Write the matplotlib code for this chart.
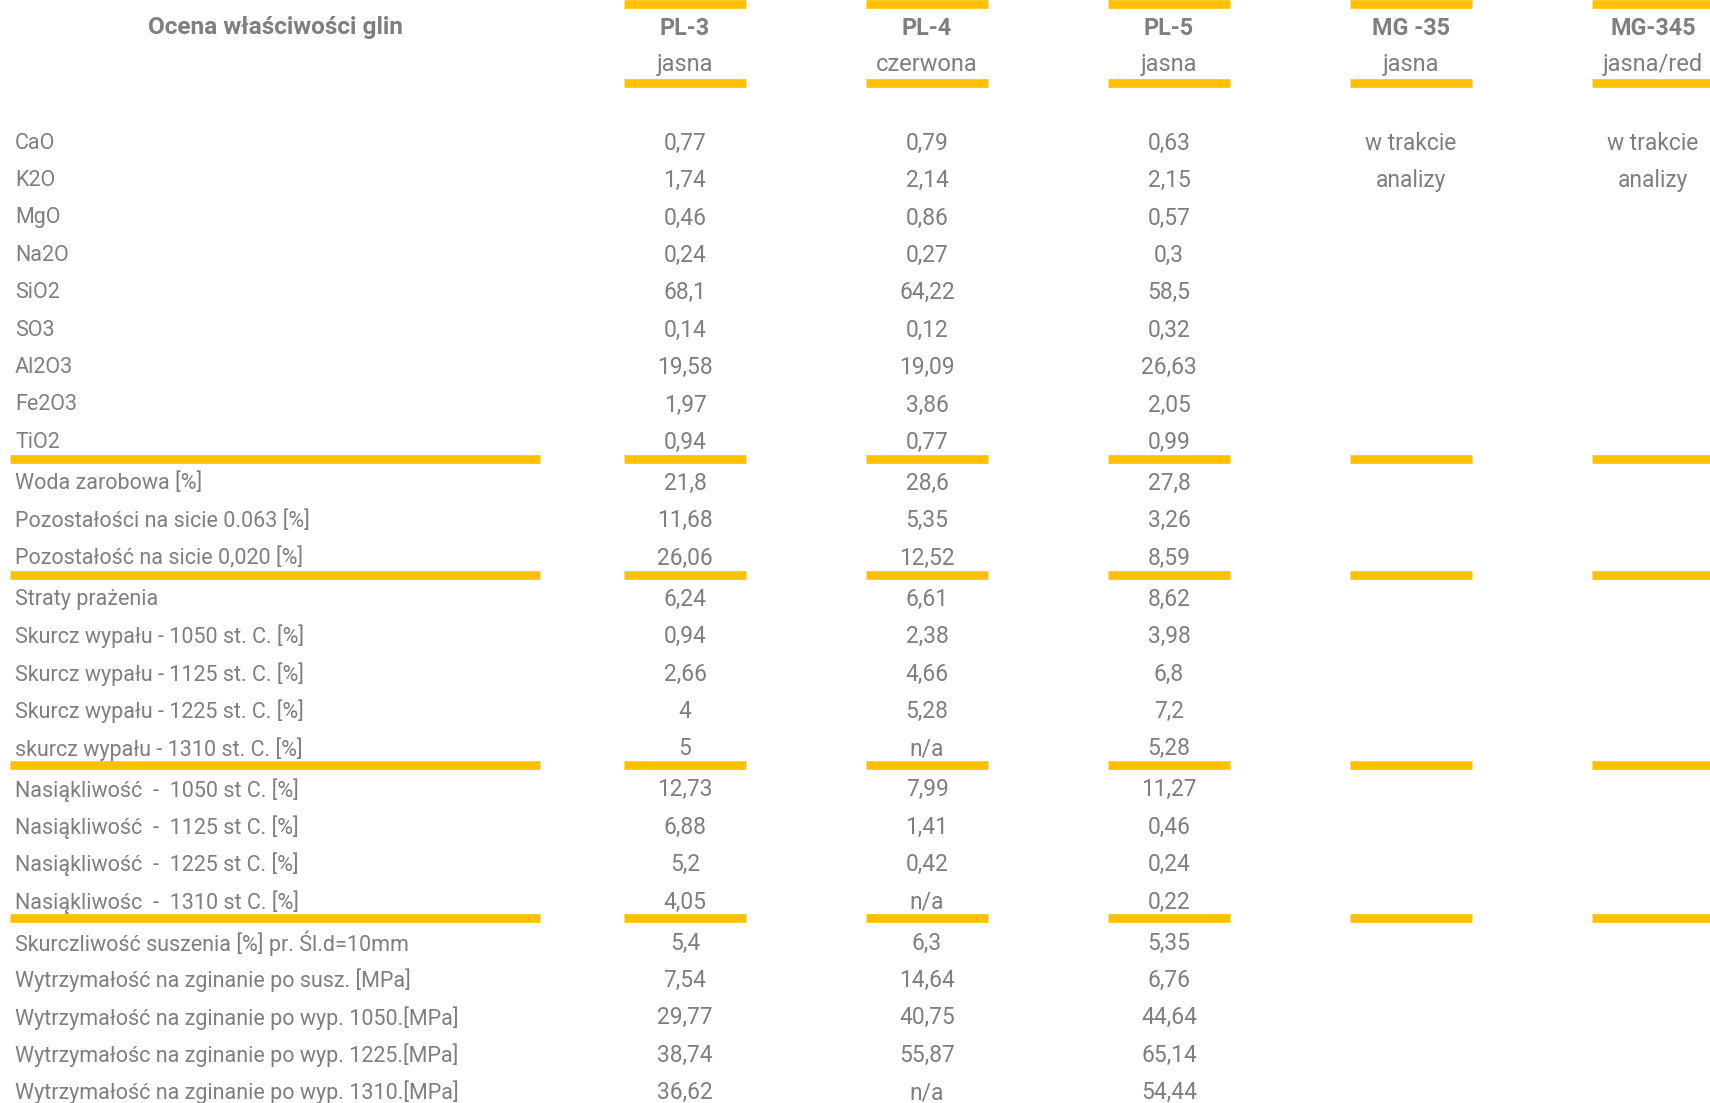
import matplotlib
matplotlib.use("Agg")
import matplotlib.pyplot as plt

plt.rcParams['font.family'] = ['Roboto', 'DejaVu Sans']

title = "Ocena właściwości glin"
col_names = ["PL-3", "PL-4", "PL-5", "MG -35", "MG-345"]
col_sub = ["jasna", "czerwona", "jasna", "jasna", "jasna/red"]

row_labels = [
    ["CaO", "K2O", "MgO", "Na2O", "SiO2", "SO3", "Al2O3", "Fe2O3", "TiO2"],
    ["Woda zarobowa [%]", "Pozostałości na sicie 0.063 [%]", "Pozostałość na sicie 0,020 [%]"],
    ["Straty prażenia", "Skurcz wypału - 1050 st. C. [%]", "Skurcz wypału - 1125 st. C. [%]",
     "Skurcz wypału - 1225 st. C. [%]", "skurcz wypału - 1310 st. C. [%]"],
    ["Nasiąkliwość  -  1050 st C. [%]", "Nasiąkliwość  -  1125 st C. [%]",
     "Nasiąkliwość  -  1225 st C. [%]", "Nasiąkliwośc  -  1310 st C. [%]"],
    ["Skurczliwość suszenia [%] pr. Śl.d=10mm", "Wytrzymałość na zginanie po susz. [MPa]",
     "Wytrzymałość na zginanie po wyp. 1050.[MPa]", "Wytrzymałośc na zginanie po wyp. 1225.[MPa]",
     "Wytrzymałość na zginanie po wyp. 1310.[MPa]"],
]

pl3 = ["0,77", "1,74", "0,46", "0,24", "68,1", "0,14", "19,58", "1,97", "0,94",
       "21,8", "11,68", "26,06",
       "6,24", "0,94", "2,66", "4", "5",
       "12,73", "6,88", "5,2", "4,05",
       "5,4", "7,54", "29,77", "38,74", "36,62"]
pl4 = ["0,79", "2,14", "0,86", "0,27", "64,22", "0,12", "19,09", "3,86", "0,77",
       "28,6", "5,35", "12,52",
       "6,61", "2,38", "4,66", "5,28", "n/a",
       "7,99", "1,41", "0,42", "n/a",
       "6,3", "14,64", "40,75", "55,87", "n/a"]
pl5 = ["0,63", "2,15", "0,57", "0,3", "58,5", "0,32", "26,63", "2,05", "0,99",
       "27,8", "3,26", "8,59",
       "8,62", "3,98", "6,8", "7,2", "5,28",
       "11,27", "0,46", "0,24", "0,22",
       "5,35", "6,76", "44,64", "65,14", "54,44"]
mg35 = ["w trakcie", "analizy"]
mg345 = ["w trakcie", "analizy"]

GRAY = "#7f7f7f"
GOLD = "#FFC000"
W, H = 1710, 1103

fig = plt.figure(figsize=(W / 100, H / 100), dpi=100)
ax = fig.add_axes([0, 0, 1, 1])
ax.set_xlim(0, W)
ax.set_ylim(H, 0)
ax.axis("off")

FS_LAB = 15.5
FS_VAL = 16.4
FS_SUB = 17.0
FS_HEAD = 16.8
FS_TITLE = 17.6
col_x = [685, 927, 1169, 1411, 1653]
half_bar = 61
bar_lw = 6.2
dy = 2.5

# header
ax.text(275, 25 + dy, title, ha="center", va="center", fontsize=FS_TITLE, fontweight="bold", color=GRAY)
for x, n, s in zip(col_x, col_names, col_sub):
    ax.text(x, 26 + dy, n, ha="center", va="center", fontsize=FS_HEAD, fontweight="bold", color=GRAY)
    ax.text(x, 62 + dy, s, ha="center", va="center", fontsize=FS_SUB, color=GRAY)
    ax.plot([x - half_bar, x + half_bar], [4, 4], color=GOLD, lw=bar_lw, solid_capstyle="butt")
    ax.plot([x - half_bar, x + half_bar], [82.5, 82.5], color=GOLD, lw=bar_lw, solid_capstyle="butt")

# body
y = 140.7
pitch = 37.4
idx = 0
cols = [pl3, pl4, pl5]
for g, labels in enumerate(row_labels):
    for lab in labels:
        ax.text(15, y + dy, lab, ha="left", va="center", fontsize=FS_LAB, color=GRAY)
        for x, vals in zip(col_x[:3], cols):
            ax.text(x, y + dy, vals[idx], ha="center", va="center", fontsize=FS_VAL, color=GRAY)
        if idx < len(mg35):
            ax.text(col_x[3], y + dy, mg35[idx], ha="center", va="center", fontsize=FS_VAL, color=GRAY)
            ax.text(col_x[4], y + dy, mg345[idx], ha="center", va="center", fontsize=FS_VAL, color=GRAY)
        idx += 1
        last_y = y
        y += pitch
    if g < len(row_labels) - 1:
        sep = last_y + 19
        ax.plot([10, 540], [sep, sep], color=GOLD, lw=bar_lw, solid_capstyle="butt")
        for x in col_x:
            ax.plot([x - half_bar, x + half_bar], [sep, sep], color=GOLD, lw=bar_lw, solid_capstyle="butt")
        y = sep + 22

fig.savefig("out.png", dpi=100)
